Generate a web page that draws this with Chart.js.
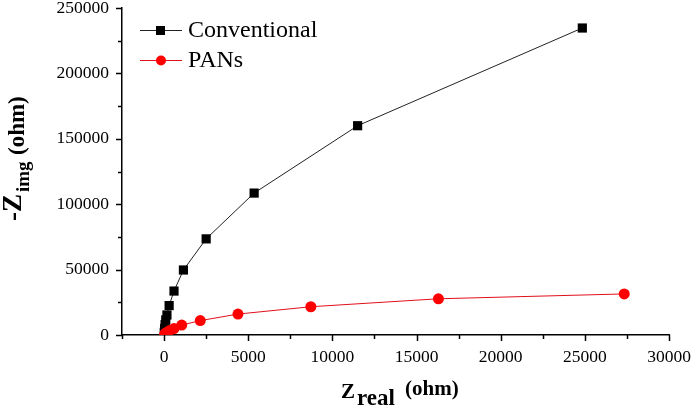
<!DOCTYPE html>
<html>
<head>
<meta charset="utf-8">
<script src="https://cdn.jsdelivr.net/npm/chart.js@4/dist/chart.umd.min.js"></script>
<style>
  html, body { margin: 0; padding: 0; background: #fff; }
  #wrap { width: 697px; height: 413px; }
</style>
</head>
<body>
<div id="wrap"><canvas id="myChart" width="697" height="413"></canvas></div>
<script>
// Nyquist data (ohm)
const convReal = [10, 30, 60, 100, 170, 300, 590, 1150, 2500, 5350, 11500, 24850];
const convImg = [2000, 5000, 8000, 11500, 15300, 22500, 33600, 49700, 73500, 108500, 160000, 234700];
const pansReal = [30, 80, 150, 300, 590, 1050, 2150, 4390, 8720, 16300, 27340];
const pansImg = [500, 1200, 2000, 3200, 4900, 7600, 11000, 16000, 21600, 27700, 31400];

const xMajor = [0, 5000, 10000, 15000, 20000, 25000, 30000];
const yMajor = [0, 50000, 100000, 150000, 200000, 250000];

const FONT = '"Liberation Serif", "Times New Roman", serif';

function pairs(xs, ys) {
    return xs.map((x, i) => ({ x: x, y: ys[i] }));
}

// minor/major ticks, axis titles with subscripts, legend with line-marker-line
const decor = {
    id: 'decor',
    afterDraw(chart) {
        const ctx = chart.ctx;
        const xs = chart.scales.x, ys = chart.scales.y;
        const area = chart.chartArea;
        ctx.save();
        ctx.strokeStyle = '#000';
        ctx.lineWidth = 1.5;
        xs.ticks.forEach(t => {
            const px = Math.round(xs.getPixelForValue(t.value)) + 0.5;
            const len = xMajor.includes(t.value) ? 6 : 4;
            ctx.beginPath();
            ctx.moveTo(px, area.bottom);
            ctx.lineTo(px, area.bottom + len);
            ctx.stroke();
        });
        ys.ticks.forEach(t => {
            const py = Math.round(ys.getPixelForValue(t.value)) + 0.5;
            const len = yMajor.includes(t.value) ? 6 : 4;
            ctx.beginPath();
            ctx.moveTo(area.left, py);
            ctx.lineTo(area.left - len, py);
            ctx.stroke();
        });

        // x title: Z_real (ohm)
        ctx.fillStyle = '#000';
        ctx.textBaseline = 'alphabetic';
        ctx.textAlign = 'left';
        ctx.font = 'bold 21px ' + FONT; ctx.fillText('Z', 341, 398);
        ctx.font = 'bold 23px ' + FONT; ctx.fillText('real', 357, 405);
        ctx.font = 'bold 21px ' + FONT; ctx.fillText('(ohm)', 405, 395);

        // y title: -Z_img (ohm), rotated
        ctx.rotate(-Math.PI / 2);
        ctx.font = 'bold 27px ' + FONT; ctx.fillText('-Z', -221, 21);
        ctx.font = 'bold 19px ' + FONT; ctx.fillText('img', -192, 29);
        ctx.font = 'bold 23px ' + FONT; ctx.fillText('(ohm)', -155, 24);
        ctx.restore();

        // legend
        ctx.save();
        chart.data.datasets.forEach((ds, i) => {
            const y = 30 + i * 30;
            ctx.strokeStyle = ds.borderColor;
            ctx.lineWidth = 1;
            ctx.beginPath();
            ctx.moveTo(140, y + 0.5);
            ctx.lineTo(182, y + 0.5);
            ctx.stroke();
            ctx.fillStyle = ds.pointBackgroundColor;
            if (ds.pointStyle === 'rect') {
                ctx.fillRect(156, y - 4, 9, 9);
            } else {
                ctx.beginPath();
                ctx.arc(161, y + 0.5, 5, 0, Math.PI * 2);
                ctx.fill();
            }
            ctx.fillStyle = '#000';
            ctx.font = '24px ' + FONT;
            ctx.textBaseline = 'alphabetic';
            ctx.fillText(ds.label, 188, y + 7);
        });
        ctx.restore();
    }
};

const data = {
    datasets: [{
        label: 'Conventional',
        data: pairs(convReal, convImg),
        borderColor: '#222',
        backgroundColor: '#000',
        pointBackgroundColor: '#000',
        pointBorderColor: '#000',
        pointBorderWidth: 0,
        pointStyle: 'rect',
        pointRadius: 6.5,
        borderWidth: 1,
        showLine: true,
        order: 2,
    }, {
        label: 'PANs',
        data: pairs(pansReal, pansImg),
        borderColor: '#e0101a',
        backgroundColor: '#ff0000',
        pointBackgroundColor: '#ff0000',
        pointBorderColor: '#ff0000',
        pointBorderWidth: 0,
        pointStyle: 'circle',
        pointRadius: 5.5,
        borderWidth: 1,
        showLine: true,
        order: 1,
    }],
};

const config = {
    type: 'scatter',
    data: data,
    options: {
        responsive: false,
        animation: false,
        layout: { padding: { top: 8, right: 28, left: 0, bottom: 0 } },
        plugins: {
            legend: { display: false },
            tooltip: { enabled: false },
        },
        scales: {
            x: {
                type: 'linear',
                min: -2500,
                max: 30000,
                grid: { display: false, drawTicks: false },
                border: { display: true, color: '#000', width: 1.5 },
                ticks: {
                    stepSize: 2500,
                    autoSkip: false,
                    maxRotation: 0,
                    padding: 12,
                    color: '#000',
                    font: { family: FONT, size: 17.5 },
                    callback: v => xMajor.includes(v) ? String(v) : '',
                },
                afterFit: s => { s.height = 78; s.paddingLeft = 0; s.paddingRight = 0; },
            },
            y: {
                type: 'linear',
                min: 0,
                max: 250000,
                grid: { display: false, drawTicks: false },
                border: { display: true, color: '#000', width: 1.5 },
                ticks: {
                    stepSize: 25000,
                    autoSkip: false,
                    padding: 13,
                    color: '#000',
                    font: { family: FONT, size: 17.5 },
                    callback: v => yMajor.includes(v) ? String(v) : '',
                },
                afterFit: s => { s.width = 122; s.paddingTop = 0; s.paddingBottom = 0; },
            },
        },
    },
    plugins: [decor],
};

const ctx = document.getElementById('myChart').getContext('2d');
const myChart = new Chart(ctx, config);
</script>
</body>
</html>
